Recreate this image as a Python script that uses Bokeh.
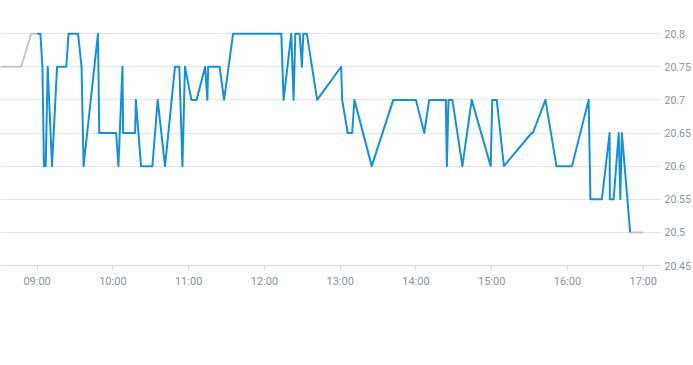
import pandas as pd
from bokeh.plotting import figure
from bokeh.models import Range1d, FixedTicker, DatetimeTickFormatter
from bokeh.embed import file_html
from bokeh.resources import INLINE

DAY = "2024-01-02 "

pre_times = ["08:31:00", "08:47:24", "08:55:18", "09:00:00"]
pre_prices = [20.75, 20.75, 20.8, 20.8]

main_times = [
    "09:00:00", "09:02:36", "09:04:12", "09:05:24", "09:06:48", "09:08:24", "09:11:48", "09:15:48",
    "09:23:06", "09:24:54", "09:32:24", "09:35:12", "09:36:48", "09:48:12", "09:49:12", "10:02:36",
    "10:04:24", "10:07:36", "10:08:06", "10:17:36", "10:18:12", "10:22:18", "10:31:18", "10:35:30",
    "10:41:18", "10:49:12", "10:52:36", "10:55:06", "10:57:06", "11:02:12", "11:06:18", "11:13:06",
    "11:14:48", "11:15:30", "11:24:30", "11:28:06", "11:35:12", "12:13:24", "12:15:12", "12:21:18",
    "12:23:06", "12:24:30", "12:27:54", "12:29:42", "12:30:48", "12:33:36", "12:41:48", "13:00:48",
    "13:01:36", "13:06:00", "13:09:30", "13:11:18", "13:25:00", "13:42:06", "14:00:00", "14:06:36",
    "14:10:30", "14:23:42", "14:24:30", "14:25:48", "14:28:54", "14:36:48", "14:44:12", "14:59:12",
    "15:00:30", "15:04:00", "15:09:42", "15:31:36", "15:32:36", "15:42:36", "15:51:18", "16:03:36",
    "16:16:48", "16:18:12", "16:27:18", "16:33:24", "16:33:36", "16:36:36", "16:40:36", "16:41:54",
    "16:43:06", "16:49:42",
]
main_prices = [
    20.8, 20.8, 20.75, 20.6, 20.6, 20.75, 20.6, 20.75,
    20.75, 20.8, 20.8, 20.75, 20.6, 20.8, 20.65, 20.65,
    20.6, 20.75, 20.65, 20.65, 20.7, 20.6, 20.6, 20.7,
    20.6, 20.75, 20.75, 20.6, 20.75, 20.7, 20.7, 20.75,
    20.7, 20.75, 20.75, 20.7, 20.8, 20.8, 20.7, 20.8,
    20.7, 20.8, 20.8, 20.75, 20.8, 20.8, 20.7, 20.75,
    20.7, 20.65, 20.65, 20.7, 20.6, 20.7, 20.7, 20.65,
    20.7, 20.7, 20.6, 20.7, 20.7, 20.6, 20.7, 20.6,
    20.7, 20.7, 20.6, 20.65, 20.65, 20.7, 20.6, 20.6,
    20.7, 20.55, 20.55, 20.65, 20.55, 20.55, 20.65, 20.55,
    20.65, 20.5,
]

post_times = ["16:49:42", "17:00:00"]
post_prices = [20.5, 20.5]

hour_ticks = ["09:00", "10:00", "11:00", "12:00", "13:00", "14:00", "15:00", "16:00", "17:00"]
price_ticks = [20.45, 20.5, 20.55, 20.6, 20.65, 20.7, 20.75, 20.8]
price_labels = ["20.45", "20.5", "20.55", "20.6", "20.65", "20.7", "20.75", "20.8"]


def ts(lst):
    return pd.to_datetime([DAY + t for t in lst])


x_start = pd.Timestamp(DAY + "08:31:00")
x_end = pd.Timestamp(DAY + "17:14:30")

p = figure(
    width=693, height=300,
    x_axis_type="datetime",
    x_range=Range1d(x_start, x_end),
    y_range=Range1d(20.45, 20.85),
    output_backend="svg", toolbar_location=None,
    min_border_left=0, min_border_top=0, min_border_right=30, min_border_bottom=35,
    y_axis_location="right",
)
p.outline_line_color = None
p.background_fill_color = "white"
p.border_fill_color = "white"

p.line(ts(pre_times), pre_prices, line_color="#c4c8cc", line_width=2)
p.line(ts(post_times), post_prices, line_color="#c4c8cc", line_width=2)
p.line(ts(main_times), main_prices, line_color="#1590dc", line_width=2, line_join="round")

tick_ms = [pd.Timestamp(DAY + h).value // 10**6 for h in hour_ticks]
xa = p.xaxis[0]
xa.ticker = FixedTicker(ticks=tick_ms)
xa.formatter = DatetimeTickFormatter(hours="%H:%M", minutes="%H:%M", days="%H:%M", hourmin="%H:%M")
xa.axis_line_color = "#d5dae0"
xa.major_tick_line_color = "#d5dae0"
xa.major_tick_out = 5
xa.major_tick_in = 0
xa.minor_tick_line_color = None
xa.minor_tick_out = 0
xa.major_label_text_color = "#8a939e"
xa.major_label_text_font = "Roboto"
xa.major_label_text_font_size = "11px"
xa.major_label_standoff = 4

ya = p.yaxis[0]
ya.ticker = FixedTicker(ticks=price_ticks)
ya.major_label_overrides = {t: l for t, l in zip(price_ticks, price_labels)}
ya.axis_line_color = None
ya.major_tick_line_color = None
ya.minor_tick_line_color = None
ya.major_tick_out = 0
ya.major_tick_in = 0
ya.minor_tick_out = 0
ya.minor_tick_in = 0
ya.major_label_text_color = "#8a939e"
ya.major_label_text_font = "Roboto"
ya.major_label_text_font_size = "10.5px"
ya.major_label_standoff = 3

p.xgrid.grid_line_color = None
p.ygrid.grid_line_color = "#e3e6ea"
p.ygrid.ticker = FixedTicker(ticks=price_ticks)

open("out.html", "w").write(file_html(p, INLINE))
